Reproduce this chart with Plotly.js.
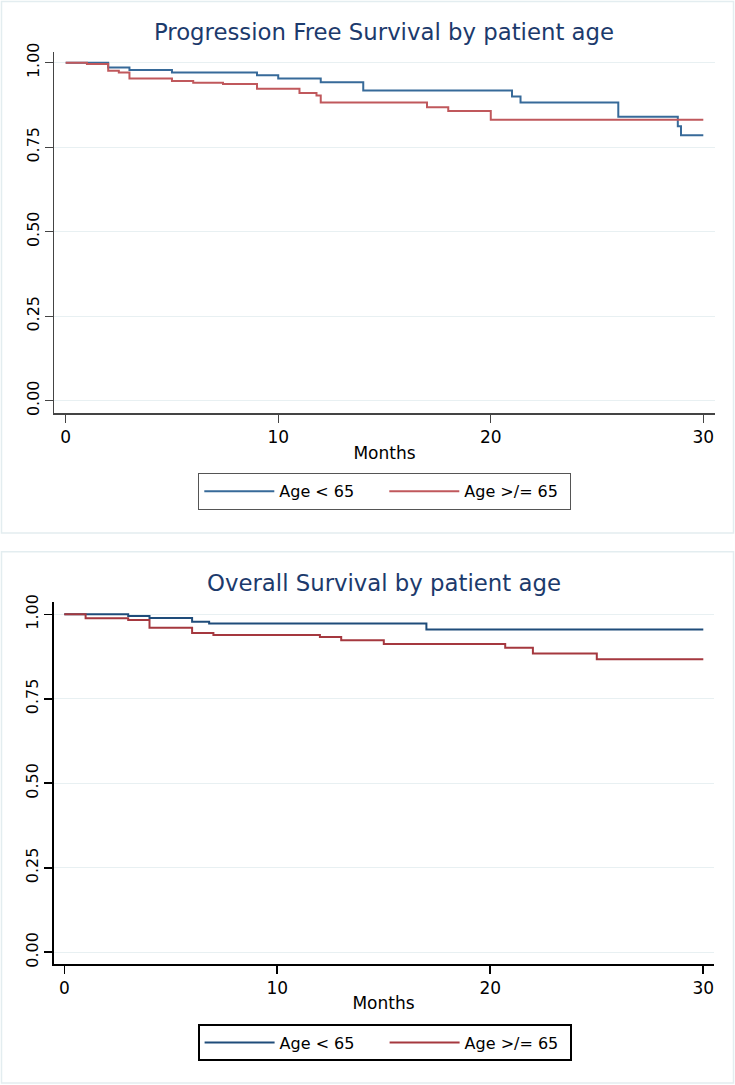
<!DOCTYPE html>
<html>
<head>
<meta charset="utf-8">
<script src="https://cdn.plot.ly/plotly-3.0.1.min.js"></script>
<style>
html,body{margin:0;padding:0;background:#ffffff;}
#chart{width:735px;height:1085px;}
</style>
</head>
<body>
<div id="chart"></div>
<script>
// ---- data ----
const seriesNames = ["Age < 65", "Age >/= 65"];
const chartTitles = ["Progression Free Survival by patient age", "Overall Survival by patient age"];
const xAxisLabel = "Months";
const monthTicks = [0, 10, 20, 30];
const survivalTicks = [0, 0.25, 0.5, 0.75, 1];

// Progression free survival, Kaplan-Meier step points (month, survival)
const pfsYoungMonths = [0, 2, 3, 5, 9, 10, 12, 14, 21, 21.4, 26, 28.8, 28.95, 30];
const pfsYoungSurv   = [1, 0.986, 0.978, 0.971, 0.963, 0.953, 0.942, 0.918, 0.900, 0.882, 0.840, 0.812, 0.785, 0.785];
const pfsOldMonths   = [0, 1, 2, 2.5, 3, 5, 6, 7.4, 9, 11, 11.8, 12, 17, 18, 20, 30];
const pfsOldSurv     = [1, 0.996, 0.976, 0.971, 0.953, 0.946, 0.941, 0.937, 0.923, 0.910, 0.903, 0.882, 0.868, 0.857, 0.831, 0.831];

// Overall survival
const osYoungMonths = [0, 3, 4, 6, 6.8, 17, 30];
const osYoungSurv   = [1, 0.995, 0.989, 0.978, 0.973, 0.955, 0.955];
const osOldMonths   = [0, 1, 3, 4, 6, 7, 12, 13, 15, 20.7, 22, 25, 30];
const osOldSurv     = [1, 0.988, 0.983, 0.960, 0.945, 0.939, 0.933, 0.923, 0.912, 0.901, 0.884, 0.867, 0.867];

// ---- layout helpers (pixel geometry of the 735x1085 page) ----
const W = 735, H = 1085;
const px = v => v / W;
const py = v => 1 - v / H;

const FONT = "DejaVu Sans, Verdana, sans-serif";
const titleColor = "#1c3a6c";
const gridColor = "#e8f0f2";
const panelBorder = "#e3edf0";

const topBlue = "#376a99", topRed = "#c0585c";
const botBlue = "#1f4c7a", botRed = "#a5383f";

function stepTrace(x, y, name, color, xa, ya, legend) {
  return {
    type: "scatter", mode: "lines", x: x, y: y, name: name,
    line: {shape: "hv", color: color, width: 2},
    xaxis: xa, yaxis: ya, legend: legend, showlegend: true,
    hoverinfo: "x+y+name"
  };
}

const traces = [
  stepTrace(pfsYoungMonths, pfsYoungSurv, seriesNames[0], topBlue, "x", "y", "legend"),
  stepTrace(pfsOldMonths, pfsOldSurv, seriesNames[1], topRed, "x", "y", "legend"),
  stepTrace(osYoungMonths, osYoungSurv, seriesNames[0], botBlue, "x2", "y2", "legend2"),
  stepTrace(osOldMonths, osOldSurv, seriesNames[1], botRed, "x2", "y2", "legend2")
];

function xAxis(domain, range, lineColor, lineWidth, standoff, anchor) {
  return {
    domain: domain, range: range, anchor: anchor,
    tickmode: "array", tickvals: monthTicks, ticktext: monthTicks.map(String),
    ticks: "outside", ticklen: 8, tickwidth: lineWidth, tickcolor: lineColor,
    showline: true, linecolor: lineColor, linewidth: lineWidth,
    showgrid: false, zeroline: false,
    tickfont: {family: FONT, size: 17, color: "#000"},
    title: {text: xAxisLabel, font: {family: FONT, size: 17, color: "#000"}, standoff: standoff}
  };
}
function yAxis(domain, range, lineColor, lineWidth, anchor) {
  return {
    domain: domain, range: range, anchor: anchor,
    tickmode: "array", tickvals: survivalTicks, tickformat: ".2f",
    ticks: "outside", ticklen: 7.5, tickwidth: lineWidth, tickcolor: lineColor,
    tickangle: -90,
    showline: true, linecolor: lineColor, linewidth: lineWidth,
    showgrid: true, gridcolor: gridColor, gridwidth: 1,
    zeroline: false,
    tickfont: {family: FONT, size: 16, color: "#000"}
  };
}

function legendBox(topPx, borderColor, borderWidth) {
  return {
    orientation: "h", x: px(198), xanchor: "left", y: py(topPx), yanchor: "top",
    xref: "paper", yref: "paper",
    bgcolor: "#ffffff", bordercolor: borderColor, borderwidth: borderWidth,
    font: {family: FONT, size: 16, color: "#000"},
    itemwidth: 70, entrywidth: 100, entrywidthmode: "pixels",
    itemclick: false, itemdoubleclick: false
  };
}

const layout = {
  width: W, height: H,
  margin: {l: 0, r: 0, t: 0, b: 0, autoexpand: false},
  paper_bgcolor: "#ffffff", plot_bgcolor: "#ffffff",
  font: {family: FONT, color: "#000"},
  title: {
    text: chartTitles[0], x: px(384), xanchor: "center", xref: "paper",
    y: py(32), yanchor: "middle", yref: "paper",
    font: {family: FONT, size: 22.8, color: titleColor}
  },
  xaxis: xAxis([px(54), px(715)], [-0.55, 30.55], "#444", 1.3, 1, "y"),
  yaxis: yAxis([py(413.3), py(51.7)], [-0.0373, 1.0325], "#444", 1.3, "x"),
  xaxis2: xAxis([px(53.5), px(713.5)], [-0.507, 30.479], "#000", 1.6, 0, "y2"),
  yaxis2: yAxis([py(964.3), py(601.7)], [-0.0355, 1.0373], "#000", 1.6, "x2"),
  legend: legendBox(473, "#555", 1.3),
  legend2: legendBox(1024, "#000", 1.6),
  annotations: [{
    text: chartTitles[1], xref: "paper", yref: "paper",
    x: px(384), y: py(583), xanchor: "center", yanchor: "middle", showarrow: false,
    font: {family: FONT, size: 22.8, color: titleColor}
  }],
  shapes: [
    {type: "rect", xref: "paper", yref: "paper", x0: px(1.5), x1: px(733.5), y0: py(533), y1: py(1.5),
     line: {color: panelBorder, width: 1.5}, fillcolor: "rgba(0,0,0,0)", layer: "below"},
    {type: "rect", xref: "paper", yref: "paper", x0: px(1.5), x1: px(733.5), y0: py(1083), y1: py(551.7),
     line: {color: panelBorder, width: 1.5}, fillcolor: "rgba(0,0,0,0)", layer: "below"}
  ],
  showlegend: true
};

Plotly.newPlot("chart", traces, layout, {displayModeBar: false, staticPlot: true});
</script>
</body>
</html>
